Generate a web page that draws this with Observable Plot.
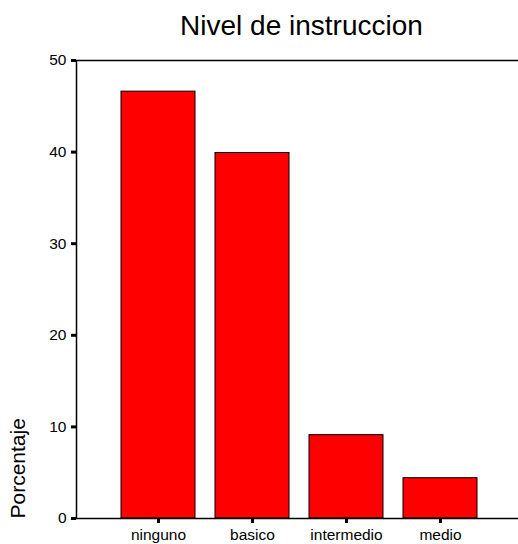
<!DOCTYPE html>
<html>
<head>
<meta charset="utf-8">
<script src="https://cdn.jsdelivr.net/npm/d3@7"></script>
<script src="https://cdn.jsdelivr.net/npm/@observablehq/plot@0.6"></script>
<style>
  html, body { margin: 0; padding: 0; background: white; overflow: hidden; }
  #title { width: 518px; height: 51px; line-height: 51px; box-sizing: border-box; padding-left: 85px;
           text-align: center; font-family: "Liberation Sans", Arial, sans-serif; font-size: 28px; color: black; }
</style>
</head>
<body>
<div id="title">Nivel de instruccion</div>
<div id="chart"></div>
<script>
const categories = ["ninguno", "basico", "intermedio", "medio"];
const percentages = [46.6, 39.9, 9.1, 4.4];
const yTicks = [0, 10, 20, 30, 40, 50];
const yLabel = "Porcentaje";

const data = categories.map((c, i) => ({cat: c, pct: percentages[i]}));

const chart = Plot.plot({
  width: 518,
  height: 493,
  marginLeft: 76,
  marginRight: 0,
  marginTop: 9,
  marginBottom: 26,
  style: {fontFamily: "'Liberation Sans', Arial, sans-serif", color: "black", background: "white"},
  x: {domain: categories, range: [76, 521], paddingInner: 0.213, paddingOuter: 0.457, align: 0.5},
  y: {domain: [0, 50]},
  marks: [
    Plot.barY(data, {x: "cat", y: "pct", fill: "#ff0000", stroke: "black", strokeWidth: 1}),
    Plot.frame({insetRight: -8, stroke: "black", strokeWidth: 1.5}),
    Plot.axisY(yTicks, {tickSize: 5, tickPadding: 5, strokeWidth: 3, fontSize: 15.5, label: null}),
    Plot.axisX(categories, {tickSize: 5, tickPadding: 5, strokeWidth: 3, fontSize: 15.5, label: null}),
    Plot.text([yLabel], {frameAnchor: "bottom-left", dx: -52, rotate: -90, textAnchor: "start", fontSize: 21, fill: "black"})
  ]
});
document.getElementById("chart").appendChild(chart);
</script>
</body>
</html>
